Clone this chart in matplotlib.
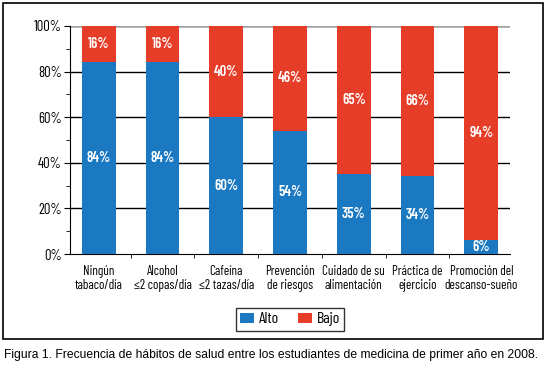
import numpy as np
import matplotlib
matplotlib.use("Agg")
from matplotlib import pyplot as plt
from matplotlib.patches import Rectangle

# Datos
categorias = ["Ningún\ntabaco/día", "Alcohol\n≤2 copas/día", "Cafeína\n≤2 tazas/día",
              "Prevención\nde riesgos", "Cuidado de su\nalimentación", "Práctica de\nejercicio",
              "Promoción del\ndescanso-sueño"]
alto = [84, 84, 60, 54, 35, 34, 6]
bajo = [16, 16, 40, 46, 65, 66, 94]
yticks = [0, 20, 40, 60, 80, 100]

azul = "#1b79c2"
rojo = "#e63d28"

plt.rcParams['font.family'] = ["Barlow Condensed", "DejaVu Sans"]

fig = plt.figure(figsize=(5.48, 3.69), dpi=100)
ax = fig.add_axes([70/548, 1-254/369, 440/548, 228/369])

x = np.arange(len(categorias))
w = 0.53
ax.bar(x, alto, w, color=azul, label="Alto", zorder=3)
ax.bar(x, bajo, w, bottom=alto, color=rojo, label="Bajo", zorder=3)

etiq = dict(ha="center", va="center", color="white", fontsize=10.5,
            fontweight="semibold", zorder=4)
for i in range(len(x)):
    ax.text(x[i], alto[i]/2, f"{alto[i]}%", **etiq)
    ax.text(x[i], alto[i] + bajo[i]/2, f"{bajo[i]}%", **etiq)

ax.set_xlim(-0.45, len(x) - 0.55)
ax.set_ylim(0, 100)

# lineas de cuadricula
for v in yticks[1:-1]:
    ax.axhline(v, color="black", lw=1, zorder=1)
ax.axhline(100, color="#a0a0a0", lw=1.8, zorder=1)

ax.set_yticks(yticks)
ax.set_yticklabels([f"{v}%" for v in yticks])
ax.set_yticks([10, 30, 50, 70, 90], minor=True)
ax.tick_params(axis="y", which="major", direction="out", length=4, labelsize=10.5, pad=2)
ax.tick_params(axis="y", which="minor", direction="out", length=3)

ax.set_xticks(x)
ax.set_xticklabels(categorias, fontsize=9.5, linespacing=1.1)
ax.set_xticks(x[:-1] + 0.5, minor=True)
ax.tick_params(axis="x", which="major", length=0, pad=8)
ax.tick_params(axis="x", which="minor", direction="out", length=3)

for s in ["top", "right"]:
    ax.spines[s].set_visible(False)
ax.spines["left"].set_color("black")
ax.spines["bottom"].set_color("black")

ax.legend(loc="upper center", bbox_to_anchor=(0.5, -0.2), ncol=2, frameon=True,
          fancybox=False, edgecolor="black", fontsize=11.5, handlelength=0.85,
          handleheight=0.6, columnspacing=1.2, borderpad=0.3, handletextpad=0.3)

# marco exterior
fig.patches.append(Rectangle((3/548, 1-339/369), 540/548, 336/369, transform=fig.transFigure,
                             fill=False, edgecolor="black", lw=1.2))

fig.text(4/548, 1-355/369,
         "Figura 1. Frecuencia de hábitos de salud entre los estudiantes de medicina de primer año en 2008.",
         ha="left", va="center", fontsize=8.75, family=["Liberation Sans", "DejaVu Sans"])

fig.savefig("out.png", dpi=100)
